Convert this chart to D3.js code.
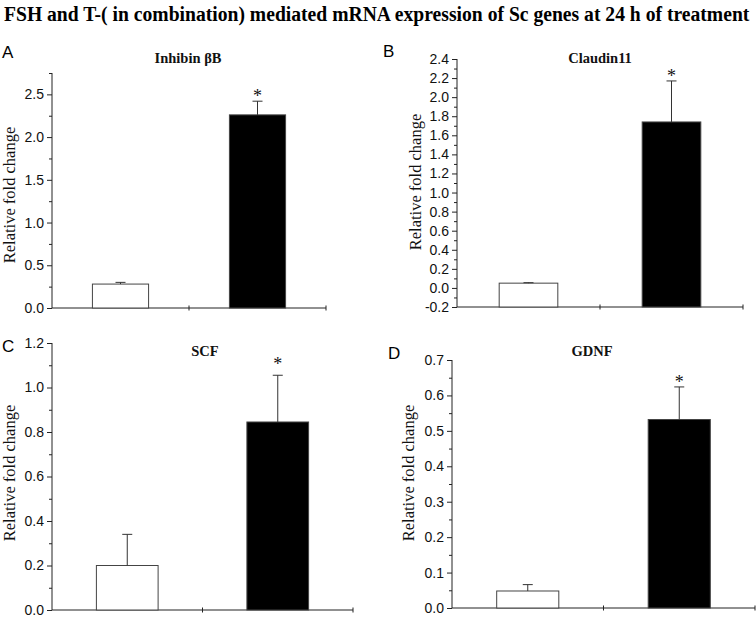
<!DOCTYPE html>
<html>
<head>
<meta charset="utf-8">
<script src="https://cdn.jsdelivr.net/npm/d3@7"></script>
<style>
  html, body { margin: 0; padding: 0; background: #fff; }
  svg { display: block; }
</style>
</head>
<body>
<svg id="chart" width="756" height="618"></svg>
<script>
// ---- data ----
const chartTitle = "FSH and T-( in combination) mediated mRNA expression of Sc genes at 24 h of treatment";
const panelLetters = ["A", "B", "C", "D"];
const genes = ["Inhibin βB", "Claudin11", "SCF", "GDNF"];
const groups = ["Control", "FSH+T"];
const controlMeans = [0.28, 0.05, 0.20, 0.048];
const controlErrs  = [0.02, 0.005, 0.14, 0.018];
const treatedMeans = [2.26, 1.74, 0.845, 0.532];
const treatedErrs  = [0.16, 0.43, 0.21, 0.092];
const significant  = [false, true];
const yMins = [0, -0.2, 0, 0];
const yMaxes = [2.75, 2.4, 1.2, 0.7];
const yMajorTicks = [
  [0.0, 0.5, 1.0, 1.5, 2.0, 2.5],
  [-0.2, 0.0, 0.2, 0.4, 0.6, 0.8, 1.0, 1.2, 1.4, 1.6, 1.8, 2.0, 2.2, 2.4],
  [0.0, 0.2, 0.4, 0.6, 0.8, 1.0, 1.2],
  [0.0, 0.1, 0.2, 0.3, 0.4, 0.5, 0.6, 0.7]
];
const yMinorTicks = [
  [0.25, 0.75, 1.25, 1.75, 2.25, 2.75],
  [-0.1, 0.1, 0.3, 0.5, 0.7, 0.9, 1.1, 1.3, 1.5, 1.7, 1.9, 2.1, 2.3],
  [0.1, 0.3, 0.5, 0.7, 0.9, 1.1],
  [0.05, 0.15, 0.25, 0.35, 0.45, 0.55, 0.65]
];
const yLabel = "Relative fold change";
const barFills = ["#ffffff", "#000000"];

// ---- layout ----
const layout = [
  { x0: 52,  x1: 326, yTop: 73,  yBot: 308, titleX: 188, titleY: 63,  letterX: 2,   letterY: 58,  ylx: 15,  yly: 195, astGap: 1 },
  { x0: 457, x1: 743, yTop: 59,  yBot: 307, titleX: 600, titleY: 63,  letterX: 383, letterY: 57,  ylx: 421, yly: 182, astGap: 1 },
  { x0: 52,  x1: 353, yTop: 343, yBot: 610, titleX: 205, titleY: 356, letterX: 2,   letterY: 352, ylx: 15,  yly: 473, astGap: -5 },
  { x0: 452, x1: 755, yTop: 360, yBot: 608, titleX: 592, titleY: 356, letterX: 388, letterY: 359, ylx: 414, yly: 473, astGap: 1 }
];

const svg = d3.select("#chart");
const axisColor = "#222";
const fmt = v => d3.format(".1f")(v).replace("−", "-");

const title = svg.append("text")
  .attr("x", 0).attr("y", 0)
  .attr("font-family", "'Liberation Serif', 'Times New Roman', serif")
  .attr("font-weight", "bold")
  .attr("font-size", 21)
  .attr("fill", "#000")
  .text(chartTitle);
const natW = title.node().getComputedTextLength();
title.attr("transform", `translate(4,21) scale(${746 / natW},1)`);

panelLetters.forEach((letter, i) => {
  const L = layout[i];
  const g = svg.append("g");
  const x = d3.scaleBand().domain(groups).range([L.x0, L.x1]).paddingInner(0.59).paddingOuter(0.295);
  const y = d3.scaleLinear().domain([yMins[i], yMaxes[i]]).range([L.yBot, L.yTop]);

  // y axis
  const yAxis = d3.axisLeft(y).tickValues(yMajorTicks[i]).tickFormat(fmt).tickSize(5).tickPadding(3);
  const ya = g.append("g").attr("transform", `translate(${L.x0},0)`).call(yAxis);
  ya.select(".domain").attr("stroke", axisColor).attr("d", `M0,${L.yTop}V${L.yBot}`);
  ya.selectAll(".tick line").attr("stroke", axisColor);
  ya.selectAll(".tick text")
    .attr("font-family", "'Liberation Sans', Arial, sans-serif")
    .attr("font-size", 14).attr("fill", "#111");
  const yMinor = d3.axisLeft(y).tickValues(yMinorTicks[i]).tickFormat("").tickSize(3);
  const ym = g.append("g").attr("transform", `translate(${L.x0},0)`).call(yMinor);
  ym.select(".domain").remove();
  ym.selectAll(".tick line").attr("stroke", axisColor);

  // x axis
  const xa = g.append("g").attr("transform", `translate(0,${L.yBot})`);
  xa.append("line").attr("x1", L.x0).attr("x2", L.x1).attr("y1", 0).attr("y2", 0)
    .attr("stroke", axisColor).attr("stroke-width", 1);
  const bounds = [x.step() + L.x0, L.x1];
  xa.selectAll("line.xt").data(bounds).join("line").attr("class", "xt")
    .attr("x1", d => d).attr("x2", d => d).attr("y1", -2.5).attr("y2", 2.5)
    .attr("stroke", axisColor);

  // bars
  const data = [
    { grp: groups[0], mean: controlMeans[i], err: controlErrs[i], fill: barFills[0], sig: significant[0] },
    { grp: groups[1], mean: treatedMeans[i], err: treatedErrs[i], fill: barFills[1], sig: significant[1] }
  ];
  const bw = x.bandwidth();
  g.selectAll("rect.bar").data(data).join("rect").attr("class", "bar")
    .attr("x", d => x(d.grp)).attr("width", bw)
    .attr("y", d => y(d.mean)).attr("height", d => L.yBot - y(d.mean))
    .attr("fill", d => d.fill).attr("stroke", "#444").attr("stroke-width", 1);

  // error bars (upper only)
  const cap = 10;
  data.forEach(d => {
    const cx = x(d.grp) + bw / 2;
    g.append("line").attr("x1", cx).attr("x2", cx)
      .attr("y1", y(d.mean)).attr("y2", y(d.mean + d.err))
      .attr("stroke", "#333").attr("stroke-width", 1);
    g.append("line").attr("x1", cx - cap / 2).attr("x2", cx + cap / 2)
      .attr("y1", y(d.mean + d.err)).attr("y2", y(d.mean + d.err))
      .attr("stroke", "#333").attr("stroke-width", 1);
    if (d.sig) {
      g.append("text").attr("x", cx).attr("y", y(d.mean + d.err) + L.astGap)
        .attr("text-anchor", "middle")
        .attr("font-family", "'Liberation Serif', 'Times New Roman', serif")
        .attr("font-size", 18).attr("fill", "#111")
        .text("*");
    }
  });

  // panel title
  g.append("text").attr("x", L.titleX).attr("y", L.titleY)
    .attr("text-anchor", "middle")
    .attr("font-family", "'Liberation Serif', 'Times New Roman', serif")
    .attr("font-weight", "bold").attr("font-size", 14.5).attr("fill", "#111")
    .text(genes[i]);

  // panel letter
  g.append("text").attr("x", L.letterX).attr("y", L.letterY)
    .attr("font-family", "'Liberation Sans', Arial, sans-serif")
    .attr("font-size", 17).attr("fill", "#000")
    .text(letter);

  // y label
  g.append("text")
    .attr("transform", `translate(${L.ylx},${L.yly}) rotate(-90)`)
    .attr("text-anchor", "middle")
    .attr("font-family", "'Liberation Serif', 'Times New Roman', serif")
    .attr("font-size", 16.5).attr("fill", "#111")
    .text(yLabel);
});
</script>
</body>
</html>
